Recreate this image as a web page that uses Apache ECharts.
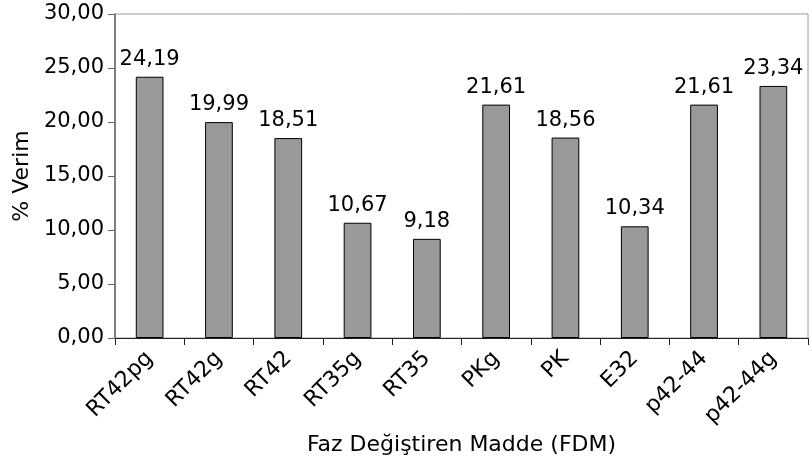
<!DOCTYPE html>
<html><head><meta charset="utf-8">
<script src="https://cdn.jsdelivr.net/npm/echarts@6/dist/echarts.min.js"></script>
<style>html,body{margin:0;padding:0;background:#fff}#c{width:812px;height:466px}</style>
</head><body><div id="c"></div>
<script>
const categories = ['RT42pg','RT42g','RT42','RT35g','RT35','PKg','PK','E32','p42-44','p42-44g'];
const verim = [24.19, 19.99, 18.51, 10.67, 9.18, 21.61, 18.56, 10.34, 21.61, 23.34];
const yTicks = [0, 5, 10, 15, 20, 25, 30];
const fmt = v => v.toFixed(2).replace('.', ',');
const FONT = 'DejaVu Sans';
const chart = echarts.init(document.getElementById('c'), null, {renderer: 'canvas'});
chart.setOption({
  animation: false,
  backgroundColor: '#fff',
  grid: {left: 115, right: 4, top: 14, bottom: 128, show: true, borderColor: '#9a9a9a', borderWidth: 1},
  xAxis: {
    type: 'category', data: categories,
    name: 'Faz Değiştiren Madde (FDM)', nameLocation: 'middle', nameGap: 92,
    nameTextStyle: {fontFamily: FONT, fontSize: 22, color: '#000'},
    axisLine: {lineStyle: {color: '#222', width: 1}},
    axisTick: {show: true, alignWithLabel: false, length: 7, lineStyle: {color: '#222'}},
    axisLabel: {rotate: 45, margin: 17, fontFamily: FONT, fontSize: 22, color: '#000', interval: 0}
  },
  yAxis: {
    type: 'value', min: yTicks[0], max: yTicks[yTicks.length-1], interval: 5,
    name: '% Verim', nameLocation: 'middle', nameGap: 82,
    nameTextStyle: {fontFamily: FONT, fontSize: 22, color: '#000'},
    axisLine: {show: true, lineStyle: {color: '#666', width: 1.5}},
    axisTick: {show: true, length: 7, lineStyle: {color: '#666'}},
    splitLine: {show: false},
    axisLabel: {formatter: v => fmt(v), fontFamily: FONT, fontSize: 21, color: '#000', margin: 11}
  },
  series: [{
    type: 'bar', data: verim, barWidth: '40%',
    itemStyle: {color: '#999999', borderColor: '#000', borderWidth: 1},
    label: {show: true, position: 'top', distance: 7, formatter: p => fmt(p.value),
            fontFamily: FONT, fontSize: 21, color: '#000'}
  }]
});
</script></body></html>
